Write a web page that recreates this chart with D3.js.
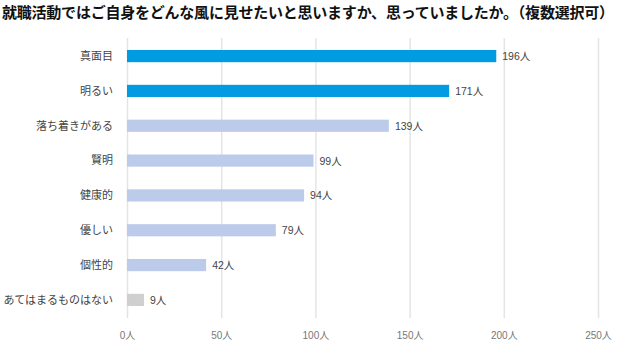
<!DOCTYPE html>
<html><head><meta charset="utf-8">
<script src="https://cdn.jsdelivr.net/npm/d3@7"></script>
<style>body{margin:0;background:#fff}svg{display:block}</style>
</head><body>
<svg id="c" width="624" height="358"></svg>
<script>
const title = "就職活動ではご自身をどんな風に見せたいと思いますか、思っていましたか。（複数選択可）";
const categories = ["真面目","明るい","落ち着きがある","賢明","健康的","優しい","個性的","あてはまるものはない"];
const values = [196,171,139,99,94,79,42,9];
const colorGroups = ["top","top","mid","mid","mid","mid","mid","none"];
const ticks = [0,50,100,150,200,250];
const unit = "人";

const font = "'Noto Sans CJK JP', 'Noto Sans', sans-serif";
const numFont = "'Liberation Sans', 'Noto Sans CJK JP', sans-serif";
const svg = d3.select("#c");
const x = d3.scaleLinear().domain([0,250]).range([127,598]);
const y = d3.scaleBand().domain(categories).range([38.5,317.5]).paddingInner(0.65).paddingOuter(0.33);
const colors = {top:"#009be1", mid:"#bdcbeb", none:"#cfcfcf"};

svg.append("text").attr("x",2).attr("y",18).attr("font-family",font).attr("font-weight","bold")
  .attr("font-size",15).attr("fill","#111").attr("textLength",612).text(title);

const axis = d3.axisBottom(x).tickValues(ticks).tickSize(-(318-38)).tickFormat(d=>d+unit);
const g = svg.append("g").attr("transform","translate(0,318)").call(axis);
g.select(".domain").remove();
g.selectAll(".tick line").attr("stroke","#e4e4e4").attr("stroke-width",1.5);
g.selectAll(".tick text").attr("font-family",numFont).attr("font-size",10).attr("fill","#777").attr("dy","1.75em");

svg.append("g").selectAll("rect").data(values).join("rect")
  .attr("x",x(0)).attr("y",(d,i)=>y(categories[i])).attr("height",y.bandwidth())
  .attr("width",d=>x(d)-x(0)).attr("fill",(d,i)=>colors[colorGroups[i]]);

svg.append("g").selectAll("text").data(values).join("text")
  .attr("x",d=>x(d)+6).attr("y",(d,i)=>y(categories[i])+y.bandwidth()/2).attr("dy","0.38em")
  .attr("font-family",numFont).attr("font-size",10.5).attr("fill","#444").text(d=>d+unit);

svg.append("g").selectAll("text").data(categories).join("text")
  .attr("x",113).attr("y",d=>y(d)+y.bandwidth()/2).attr("dy","0.35em").attr("text-anchor","end")
  .attr("font-family",font).attr("font-size",11).attr("fill","#444").text(d=>d);
</script>
</body></html>
